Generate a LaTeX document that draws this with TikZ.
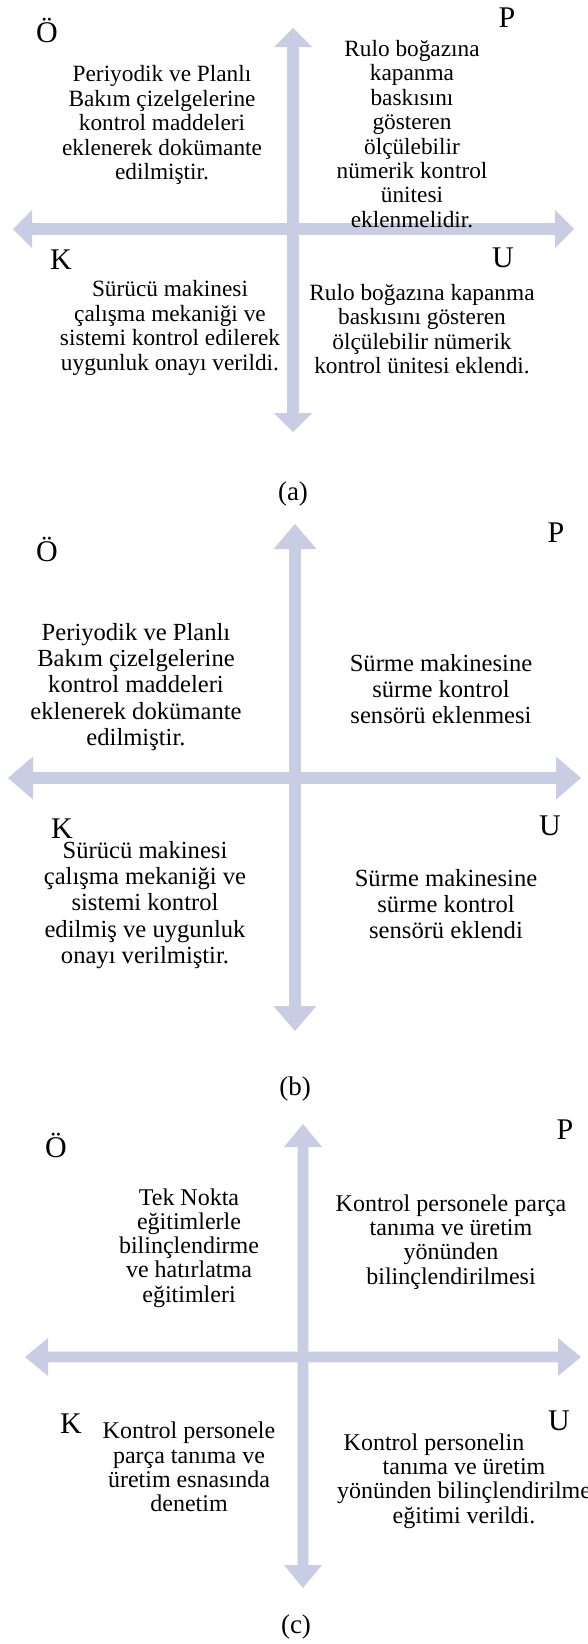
\documentclass[tikz,border=0pt]{standalone}
\usepackage{fontspec}
\setmainfont{Liberation Serif}
\definecolor{axiscol}{RGB}{200,205,228}
\newcommand{\HAx}[6]{% y, xl, xr, headlen, headhalf, shafthalf
 \fill[axiscol] (#2,#1) -- ({#2+#4},{#1-#5}) -- ({#2+#4},{#1-#6}) -- ({#3-#4},{#1-#6}) -- ({#3-#4},{#1-#5}) -- (#3,#1) -- ({#3-#4},{#1+#5}) -- ({#3-#4},{#1+#6}) -- ({#2+#4},{#1+#6}) -- ({#2+#4},{#1+#5}) -- cycle;}
\newcommand{\VAx}[6]{% x, yt, yb, headlen, headhalf, shafthalf
 \fill[axiscol] (#1,#2) -- ({#1+#5},{#2+#4}) -- ({#1+#6},{#2+#4}) -- ({#1+#6},{#3-#4}) -- ({#1+#5},{#3-#4}) -- (#1,#3) -- ({#1-#5},{#3-#4}) -- ({#1-#6},{#3-#4}) -- ({#1-#6},{#2+#4}) -- ({#1-#5},{#2+#4}) -- cycle;}
\tikzset{
  txt/.style={align=center, inner sep=0pt, text=black},
  fa/.style={font=\fontsize{23.3}{24.4}\selectfont},
  fb/.style={font=\fontsize{24.6}{26.3}\selectfont},
  fc/.style={font=\fontsize{24}{24.2}\selectfont},
  lbl/.style={inner sep=0pt, font=\fontsize{30}{30}\selectfont},
  capt/.style={inner sep=0pt, font=\fontsize{27}{27}\selectfont},
}
\begin{document}
\begin{tikzpicture}[x=1pt,y=-1pt]
\useasboundingbox (0,0) rectangle (587,1644);
\fill[white] (0,0) rectangle (587,1644);
% ---------------- panel (a)
\HAx{229}{13}{574}{19}{19}{5.8}
\VAx{293}{28}{432}{19}{19}{5.8}
\node[lbl] (aO) at (47,30) {Ö};
\node[lbl] (aP) at (507,18) {P};
\node[lbl] (aK) at (61,260) {K};
\node[lbl] (aU) at (503,258) {U};
\node[txt,fa] (atl) at (162,125) {Periyodik ve Planlı\\Bakım çizelgelerine\\kontrol maddeleri\\eklenerek dokümante\\edilmiştir.};
\node[txt,fa] (atr) at (412,134) {Rulo boğazına\\kapanma\\baskısını\\gösteren\\ölçülebilir\\nümerik kontrol\\ünitesi\\eklenmelidir.};
\node[txt,fa] (abl) at (170,328) {Sürücü makinesi\\çalışma mekaniği ve\\sistemi kontrol edilerek\\uygunluk onayı verildi.};
\node[txt,fa] (abr) at (422,329) {Rulo boğazına kapanma\\baskısını gösteren\\ölçülebilir nümerik\\kontrol ünitesi eklendi.};
\node[capt] (acap) at (293,494) {(a)};
% ---------------- panel (b)
\HAx{778}{8}{581}{25}{21.5}{5.8}
\VAx{295}{524}{1031}{25}{21.5}{5.8}
\node[lbl] (bO) at (47,549) {Ö};
\node[lbl] (bP) at (556,533) {P};
\node[lbl] (bK) at (62,829) {K};
\node[lbl] (bU) at (550,826) {U};
\node[txt,fb] (btl) at (136,687) {Periyodik ve Planlı\\Bakım çizelgelerine\\kontrol maddeleri\\eklenerek dokümante\\edilmiştir.};
\node[txt,fb] (btr) at (441,689) {Sürme makinesine\\sürme kontrol\\sensörü eklenmesi};
\node[txt,fb] (bbl) at (145,905) {Sürücü makinesi\\çalışma mekaniği ve\\sistemi kontrol\\edilmiş ve uygunluk\\onayı verilmiştir.};
\node[txt,fb] (bbr) at (446,904) {Sürme makinesine\\sürme kontrol\\sensörü eklendi};
\node[capt] (bcap) at (295,1089) {(b)};
% ---------------- panel (c)
\HAx{1357}{25}{581}{23}{19}{5.3}
\VAx{303}{1124}{1588}{23}{19}{5.3}
\node[lbl] (cO) at (56,1145) {Ö};
\node[lbl] (cP) at (565,1130) {P};
\node[lbl] (cK) at (71,1424) {K};
\node[lbl] (cU) at (559,1421) {U};
\node[txt,fc] (ctl) at (189,1248) {Tek Nokta\\eğitimlerle\\bilinçlendirme\\ve hatırlatma\\eğitimleri};
\node[txt,fc] (ctr) at (451,1242) {Kontrol personele parça\\tanıma ve üretim\\yönünden\\bilinçlendirilmesi};
\node[txt,fc] (cbl) at (189,1467) {Kontrol personele\\parça tanıma ve\\üretim esnasında\\denetim};
\node[txt,fc] (cbr) at (464,1481) {Kontrol personelin\hspace*{60pt}\\tanıma ve üretim\\yönünden bilinçlendirilme\\eğitimi verildi.};
\node[capt] (ccap) at (296,1627) {(c)};
\end{tikzpicture}
\end{document}
